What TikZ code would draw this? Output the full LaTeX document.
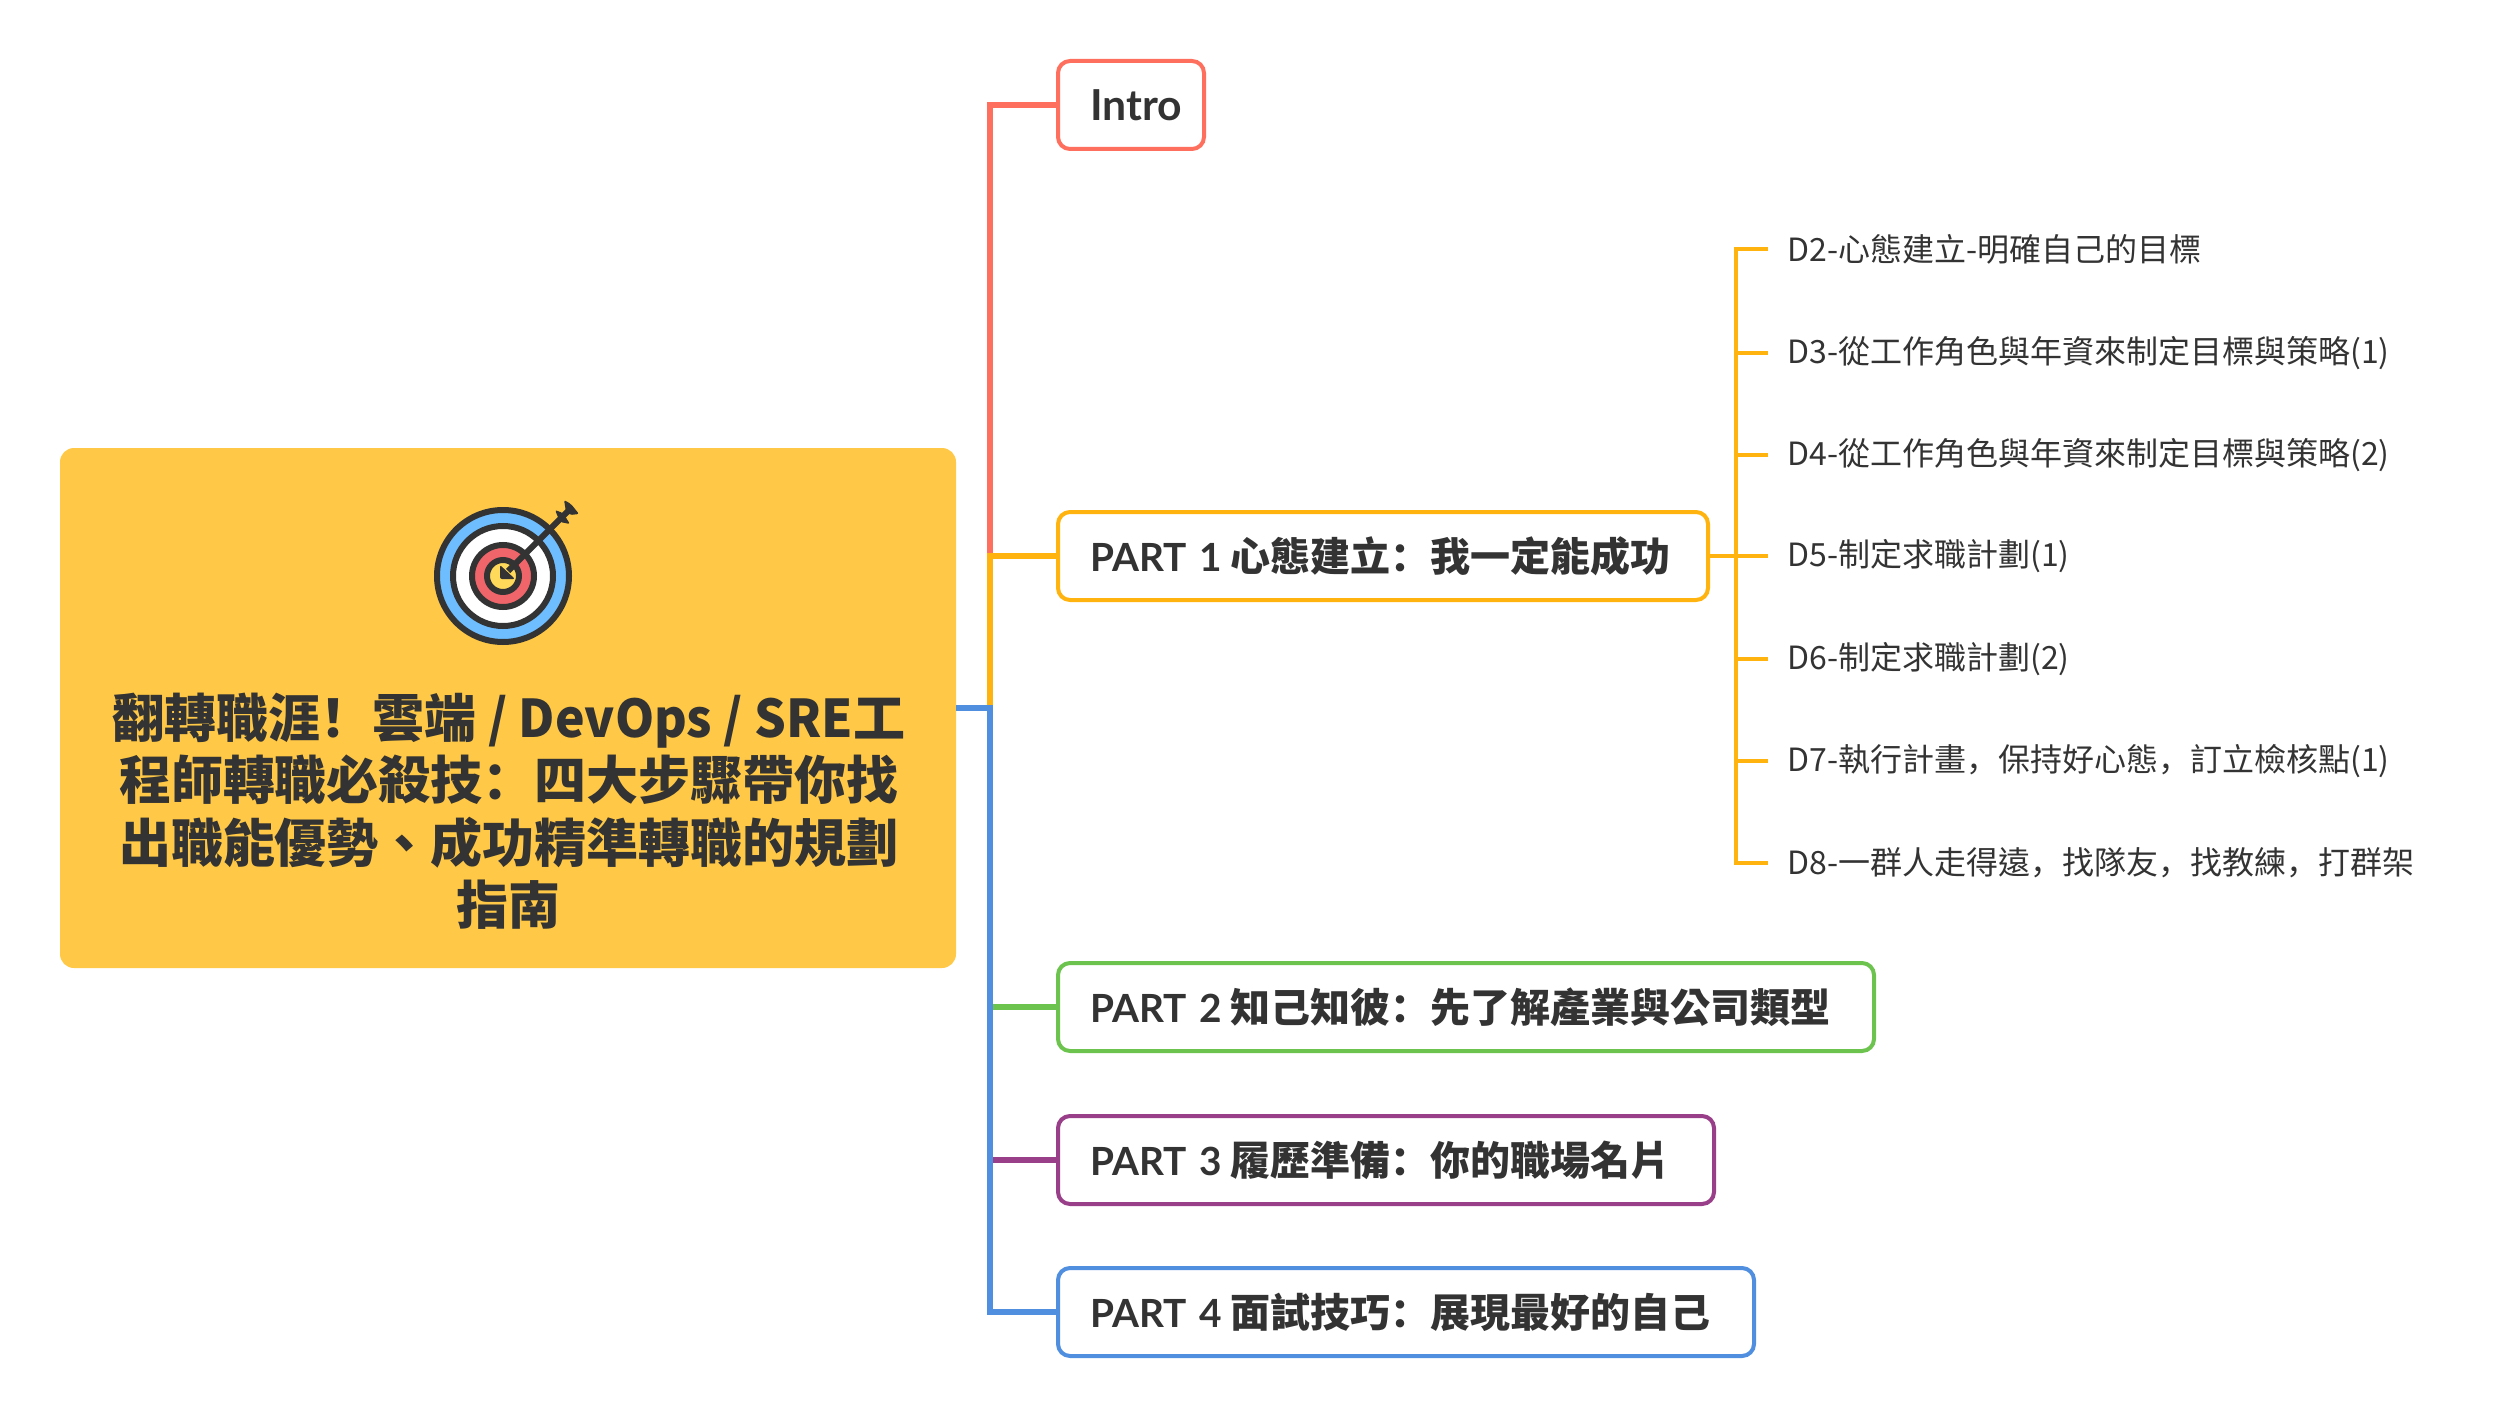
\documentclass[tikz,border=0pt]{standalone}
\usepackage{fontspec}
\setmainfont{Noto Sans CJK TC}
\newfontfamily\latfont[Scale=0.97]{Lato}
\newfontfamily\punctfont{Noto Sans CJK SC}
\newfontfamily\narrowfont[FakeStretch=0.96]{Noto Sans CJK TC}
\usetikzlibrary{positioning,calc}
\definecolor{introColor}{HTML}{FF6F5E}
\definecolor{oneColor}{HTML}{FFB30F}
\definecolor{twoColor}{HTML}{6CC44F}
\definecolor{threeColor}{HTML}{993E88}
\definecolor{fourColor}{HTML}{508FE0}
\definecolor{rootColor}{HTML}{FFC947}
\definecolor{inkColor}{HTML}{333333}
\definecolor{outerColor}{HTML}{6DBDFF}
\definecolor{redColor}{HTML}{F0656A}
\definecolor{eyeColor}{HTML}{FFD95A}
\newcommand{\lat}[1]{{\latfont\bfseries #1}\hspace{4pt}}
% full-width punctuation
\newcommand{\fwbang}{{\punctfont\symbol{"FF01}}}
\newcommand{\fwcolon}{{\punctfont\symbol{"FF1A}}}
\newcommand{\fwcomma}{{\punctfont\symbol{"FF0C}}}
\tikzset{
	partbox/.style={draw=#1, fill=white, rounded corners=6pt, line width=2pt, anchor=west,
		minimum height=44pt, inner xsep=16pt, inner ysep=0pt, align=left, text=inkColor,
		font=\fontsize{20}{24}\selectfont\bfseries},
	branch/.style={draw=#1, line width=3pt},
	twig/.style={draw=oneColor, line width=1.6pt},
	leaf/.style={anchor=west, inner sep=0pt, text=inkColor, font=\fontsize{16}{18}\selectfont},
	ring/.style={draw=inkColor, fill=#1, line width=3pt}
}
\begin{document}
\begin{tikzpicture}[x=0.5pt,y=-0.5pt]
	\useasboundingbox (0,0) rectangle (2502,1418);
	\node[fill=rootColor, rounded corners=7pt, minimum width=448pt, minimum height=260pt, inner sep=0] (root) at (508, 708) {};
	\node[text=inkColor, align=center, inner sep=0, font=\fontsize{26}{31.25}\selectfont\bfseries] (title) at (509, 811) {翻轉職涯\fwbang 雲端{\narrowfont\ / DevOps / SRE}工\\程師轉職必殺技\fwcolon 四大步驟帶你找\\出職能優勢、成功精準轉職的規劃\\指南};
	\node[partbox=introColor, text width=41pt] (intro) at (1056, 105) {{\fontsize{22}{24}\selectfont\lat{Intro}}};
	\node[partbox=oneColor, text width=293pt] (part1) at (1056, 556) {\lat{PART 1}心態建立\fwcolon 我一定能成功};
	\node[partbox=twoColor, text width=376pt] (part2) at (1056, 1007) {\lat{PART 2}知己知彼\fwcolon 先了解產業與公司類型};
	\node[partbox=threeColor, text width=296pt] (part3) at (1056, 1160) {\lat{PART 3}履歷準備\fwcolon 你的職場名片};
	\node[partbox=fourColor, text width=316pt] (part4) at (1056, 1312) {\lat{PART 4}面試技巧\fwcolon 展現最好的自己};
	\coordinate (trunk) at (990, 708);
	\coordinate (fork) at (1736, 556);
	% main branches
	\draw[branch=introColor] (trunk) |- (intro.west);
	\draw[branch=oneColor] (trunk) |- (part1.west);
	\draw[branch=twoColor] (trunk |- part2.west) -- (part2.west);
	\draw[branch=threeColor] (trunk |- part3.west) -- (part3.west);
	\draw[branch=fourColor] (root.east) -- (trunk) |- (part4.west);
	% part 1 leaves
	\foreach \name/\ypos/\txt in {d2/249/{D2-心態建立-明確自己的目標},
		d3/353/{D3-從工作角色與年資來制定目標與策略(1)},
		d4/455/{D4-從工作角色與年資來制定目標與策略(2)},
		d5/556/{D5-制定求職計劃(1)},
		d6/659/{D6-制定求職計劃(2)},
		d7/761/{D7-執行計畫\fwcomma 保持好心態\fwcomma 訂立檢核點(1)},
		d8/863/{D8-一群人走得遠\fwcomma 找隊友\fwcomma 找教練\fwcomma 打群架}}{
		\node[leaf] (\name) at (1787, \ypos) {\txt};
		\draw[twig] (fork) |- ($(\name.west)+(-19,0)$);
	}
	\draw[twig] (part1.east) -- (fork);
	% target icon
	\coordinate (target) at (503, 576);
	\draw[ring=outerColor] (target) circle [radius=33pt];
	\draw[ring=white] (target) circle [radius=25pt];
	\draw[ring=redColor] (target) circle [radius=15.5pt];
	\draw[ring=eyeColor] (target) circle [radius=8pt];
	\draw[inkColor, line width=3pt] ($(target)+(5,-5)$) -- ($(target)+(66,-66)$);
	\fill[inkColor, rounded corners=1pt] ($(target)+(-3,-11)$) -- ($(target)+(-3,3)$) -- ($(target)+(12,3)$) -- cycle;
	\fill[inkColor, rounded corners=1pt] ($(target)+(52,-66)$) -- ($(target)+(60,-63)$) -- ($(target)+(67,-52)$) -- ($(target)+(57,-54)$) -- cycle;
	\fill[inkColor, rounded corners=1pt] ($(target)+(61,-76)$) -- ($(target)+(68,-72)$) -- ($(target)+(76,-62)$) -- ($(target)+(67,-61)$) -- ($(target)+(63,-64)$) -- cycle;
\end{tikzpicture}
\end{document}
